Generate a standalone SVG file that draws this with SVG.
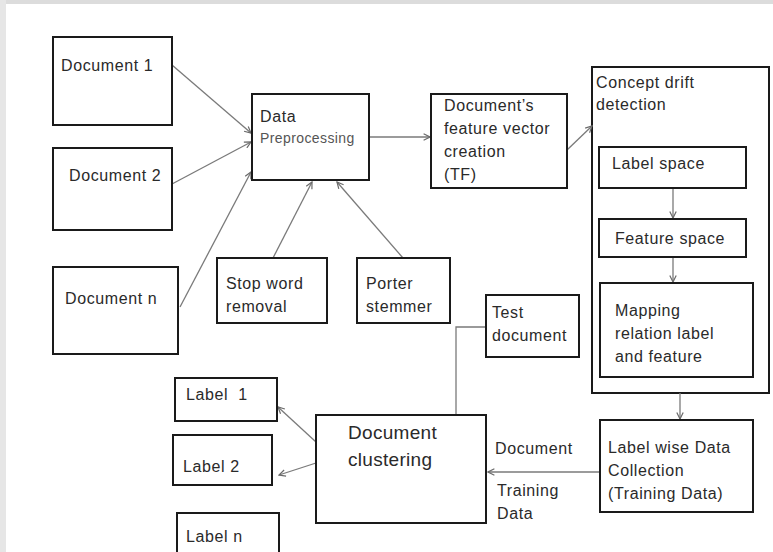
<svg xmlns="http://www.w3.org/2000/svg" width="773" height="552" viewBox="0 0 773 552">
<style>
.box{fill:#fff;stroke:#1a1a1a;stroke-width:2}
.t{font-family:"Liberation Sans",Arial,sans-serif;font-size:16px;letter-spacing:0.6px;fill:#2a2a2a;white-space:pre}
.s{font-size:14px;letter-spacing:0.4px;fill:#555}
.big{font-size:19px;letter-spacing:0.3px}
.c{fill:none;stroke:#7a7a7a;stroke-width:1.3}
</style>
<defs>
<marker id="a" viewBox="0 0 10 10" refX="9" refY="5" markerWidth="8" markerHeight="8" markerUnits="userSpaceOnUse" orient="auto">
<path d="M1,1 L9,5 L1,9" fill="none" stroke="#6a6a6a" stroke-width="1.5"/>
</marker>
</defs>
<rect width="773" height="552" fill="#fff"/>
<rect x="0" y="0" width="773" height="4" fill="#dcdcdc"/>
<rect x="0" y="0" width="6" height="552" fill="#e6e6e6"/>

<g id="drift"><rect class="box" x="592" y="67" width="177" height="326"/><text class="t" x="596" y="88">Concept drift</text><text class="t" x="596" y="110">detection</text></g>

<g id="connectors">
<line class="c" x1="172" y1="65" x2="251" y2="133" marker-end="url(#a)"/>
<line class="c" x1="172" y1="184" x2="251" y2="142" marker-end="url(#a)"/>
<line class="c" x1="180" y1="307" x2="251" y2="172" marker-end="url(#a)"/>
<line class="c" x1="273" y1="258" x2="312" y2="182" marker-end="url(#a)"/>
<line class="c" x1="403" y1="258" x2="337" y2="182" marker-end="url(#a)"/>
<line class="c" x1="369" y1="137" x2="430" y2="137" marker-end="url(#a)"/>
<line class="c" x1="567" y1="150" x2="592" y2="126" marker-end="url(#a)"/>
<line class="c" x1="673" y1="188" x2="673" y2="218" marker-end="url(#a)"/>
<line class="c" x1="673" y1="257" x2="673" y2="282" marker-end="url(#a)"/>
<line class="c" x1="680" y1="393" x2="680" y2="419" marker-end="url(#a)"/>
<line class="c" x1="600" y1="472" x2="488" y2="472" marker-end="url(#a)"/>
<polyline class="c" points="486,327 456,327 456,415"/>
<line class="c" x1="316" y1="442" x2="278" y2="407" marker-end="url(#a)"/>
<line class="c" x1="316" y1="463" x2="279" y2="475" marker-end="url(#a)"/>
</g>

<g id="doc1"><rect class="box" x="53" y="37" width="119" height="88"/><text class="t" x="61" y="71">Document 1</text></g>
<g id="doc2"><rect class="box" x="53" y="148" width="119" height="82"/><text class="t" x="69" y="181">Document 2</text></g>
<g id="docn"><rect class="box" x="53" y="267" width="125" height="87"/><text class="t" x="65" y="304">Document n</text></g>
<g id="prep"><rect class="box" x="252" y="94" width="117" height="86"/><text class="t" x="260" y="122">Data</text><text class="t s" x="260" y="143">Preprocessing</text></g>
<g id="fvec"><rect class="box" x="431" y="94" width="136" height="94"/><text class="t" x="444" y="111">Document’s</text><text class="t" x="444" y="134">feature vector</text><text class="t" x="444" y="157">creation</text><text class="t" x="444" y="180">(TF)</text></g>
<g id="stop"><rect class="box" x="217" y="258" width="110" height="65"/><text class="t" x="226" y="289">Stop word</text><text class="t" x="226" y="312">removal</text></g>
<g id="porter"><rect class="box" x="357" y="258" width="93" height="65"/><text class="t" x="366" y="289">Porter</text><text class="t" x="366" y="312">stemmer</text></g>
<g id="lspace"><rect class="box" x="599" y="147" width="147" height="41"/><text class="t" x="612" y="169">Label space</text></g>
<g id="fspace"><rect class="box" x="599" y="219" width="147" height="38"/><text class="t" x="615" y="244">Feature space</text></g>
<g id="mapping"><rect class="box" x="600" y="283" width="153" height="94"/><text class="t" x="615" y="316">Mapping</text><text class="t" x="615" y="339">relation label</text><text class="t" x="615" y="362">and feature</text></g>
<g id="test"><rect class="box" x="486" y="295" width="93" height="62"/><text class="t" x="492" y="318">Test</text><text class="t" x="492" y="341">document</text></g>
<g id="lwise"><rect class="box" x="600" y="420" width="153" height="92"/><text class="t" x="608" y="453">Label wise Data</text><text class="t" x="608" y="476">Collection</text><text class="t" x="608" y="499">(Training Data)</text></g>
<g id="clust"><rect class="box" x="316" y="415" width="170" height="108"/><text class="t big" x="348" y="439">Document</text><text class="t big" x="348" y="466">clustering</text></g>
<g id="lab1"><rect class="box" x="175" y="378" width="102" height="43"/><text class="t" x="186" y="400" xml:space="preserve">Label  1</text></g>
<g id="lab2"><rect class="box" x="173" y="435" width="99" height="50"/><text class="t" x="183" y="472">Label 2</text></g>
<g id="labn"><rect class="box" x="177" y="513" width="102" height="45"/><text class="t" x="186" y="542">Label n</text></g>
<g id="edge-labels"><text class="t" x="495" y="454">Document</text><text class="t" x="497" y="496">Training</text><text class="t" x="497" y="519">Data</text></g>
</svg>
